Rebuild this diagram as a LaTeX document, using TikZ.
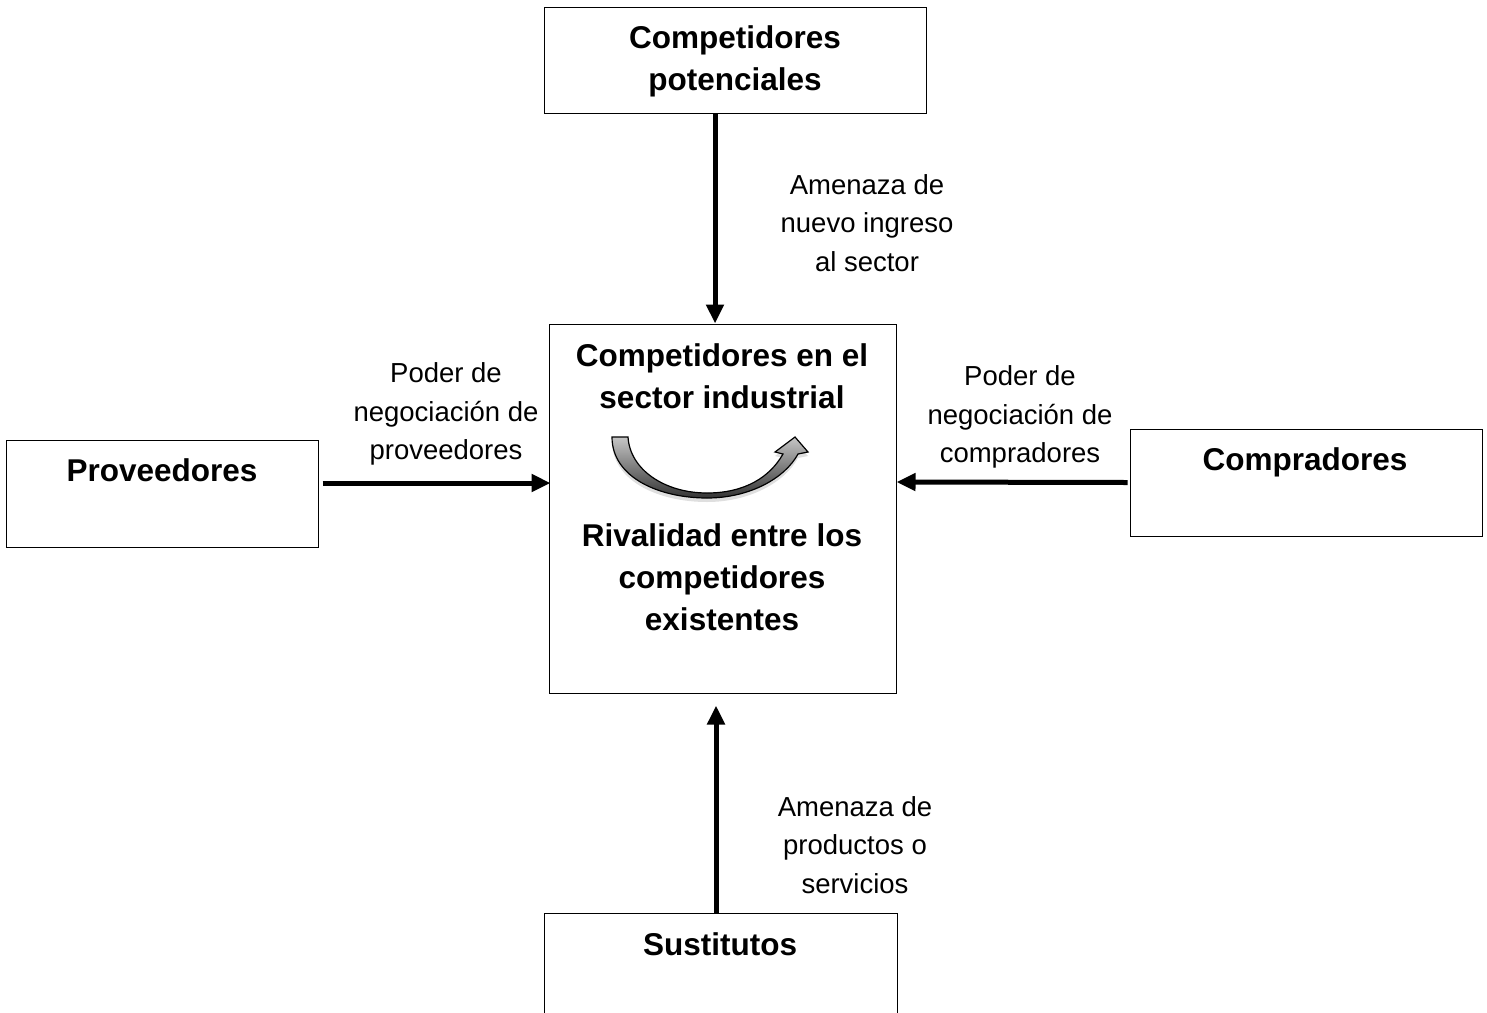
\documentclass[tikz,border=0pt]{standalone}
\usepackage{fontspec}
\setmainfont{Liberation Sans}
\usetikzlibrary{arrows.meta,shadows}
\begin{document}
\begin{tikzpicture}[x=1pt,y=-1pt,
  box/.style={draw=black,line width=1pt,inner sep=0pt},
  lbl/.style={inner sep=0pt,align=center,font=\fontsize{27.5}{38.5}\selectfont},
  ttl/.style={inner sep=0pt,align=center,font=\fontsize{31.5}{42}\selectfont\bfseries},
  arr/.style={line width=5pt,-{Triangle[length=19pt,width=17pt]}}]
\useasboundingbox (0,0) rectangle (1487,1012);
\clip (0,0) rectangle (1487,1012);
% boxes
\node[box,minimum width=382pt,minimum height=106pt] (top) at (735,60) {};
\node[box,minimum width=347pt,minimum height=369pt] (cen) at (722.5,508.5) {};
\node[box,minimum width=312pt,minimum height=107pt] (prov) at (162,493.5) {};
\node[box,minimum width=352pt,minimum height=107pt] (comp) at (1306,482.5) {};
\node[box,minimum width=353pt,minimum height=140pt] (sust) at (720.5,983) {};
% titles
\node[ttl] (toptxt) at (735,61) {Competidores\\potenciales};
\node[ttl] (centxt) at (722,376) {Competidores en el\\sector industrial};
\node[ttl] (rivtxt) at (722,577) {Rivalidad entre los\\competidores\\existentes};
\node[ttl] (provtxt) at (162,470) {Proveedores};
\node[ttl] (comptxt) at (1305,462) {Compradores};
\node[ttl] (susttxt) at (720,944) {Sustitutos};
% labels
\node[lbl] (l1) at (867,223) {Amenaza de\\nuevo ingreso\\al sector};
\node[lbl] (l2) at (446,414) {Poder de\\negociación de\\proveedores};
\node[lbl] (l3) at (1020,417) {Poder de\\negociación de\\compradores};
\node[lbl] (l4) at (855,845) {Amenaza de\\productos o\\servicios};
% connectors
\draw[arr] ([xshift=-20pt]top.south) -- ([xshift=-7.5pt]cen.north);
\draw[arr] ([xshift=4pt,yshift=10.5pt]prov.east) -- ([xshift=2pt,yshift=25.5pt]cen.west);
\draw[arr] ([xshift=-2pt]comp.west) -- ([yshift=26.5pt]cen.east);
\draw[arr] ([xshift=-4.5pt]sust.north) -- ([xshift=-6.5pt,yshift=-12pt]cen.south);
% curved arrow
\draw[line width=1.2pt,top color=gray!45,bottom color=black!80,drop shadow={opacity=0.25,shadow xshift=0pt,shadow yshift=-4pt}]
  (612,437) .. controls (612,478) and (660,498) .. (707,498)
  .. controls (750,498) and (785,478) .. (798,454)
  -- (808,452) -- (795,437) -- (775,452) -- (783,454)
  .. controls (770,477) and (745,493) .. (707,493)
  .. controls (665,493) and (630,470) .. (628,437) -- cycle;
\end{tikzpicture}
\end{document}
